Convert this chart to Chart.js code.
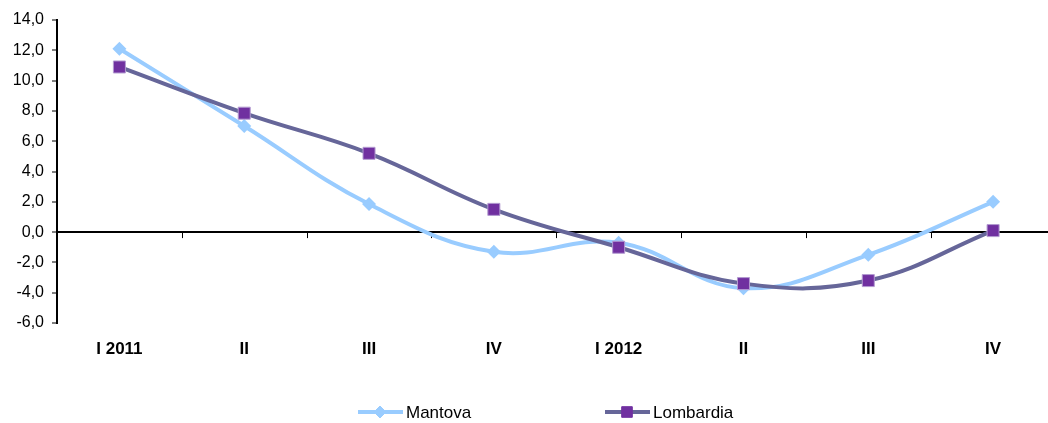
<!DOCTYPE html>
<html>
<head>
<meta charset="utf-8">
<script src="https://cdn.jsdelivr.net/npm/chart.js@4"></script>
<style>
  html, body { margin: 0; padding: 0; background: #fff; overflow: hidden; }
  #wrap { width: 1065px; height: 423px; }
</style>
</head>
<body>
<div id="wrap"><canvas id="trendChart"></canvas></div>
<script>
    var quarters = ['I 2011', 'II', 'III', 'IV', 'I 2012', 'II', 'III', 'IV'];
    var mantova = [12.1, 7.0, 1.85, -1.3, -0.7, -3.7, -1.5, 2.0];
    var lombardia = [10.9, 7.85, 5.2, 1.5, -1.0, -3.4, -3.2, 0.1];

    var mantovaColor = '#99CCFF';
    var lombardiaLine = '#666699';
    var lombardiaMark = '#7030A0';

    // small ticks on the zero line between categories + legend at the bottom
    var extras = {
        id: 'extras',
        beforeDatasetsDraw(chart) {
            var c = chart.ctx, area = chart.chartArea;
            var y0 = chart.scales.y.getPixelForValue(0);
            var w = (area.right - area.left) / quarters.length;
            c.save();
            c.strokeStyle = '#000';
            c.lineWidth = 1;
            for (var i = 1; i < quarters.length; i++) {
                var x = Math.round(area.left + i * w) + 0.5;
                c.beginPath();
                c.moveTo(x, y0);
                c.lineTo(x, y0 + 6);
                c.stroke();
            }
            c.restore();
        },
        afterDraw(chart) {
            var c = chart.ctx;
            var items = [
                { x: 358, label: 'Mantova', line: mantovaColor, fill: mantovaColor, style: 'rectRot', r: 6 },
                { x: 605, label: 'Lombardia', line: lombardiaLine, fill: lombardiaMark, style: 'rect', r: 7.5 }
            ];
            var y = 412;
            c.save();
            c.font = '17px "Liberation Sans", Arial, sans-serif';
            c.textBaseline = 'middle';
            items.forEach(function (it) {
                c.strokeStyle = it.line;
                c.lineWidth = 4;
                c.beginPath();
                c.moveTo(it.x, y);
                c.lineTo(it.x + 45, y);
                c.stroke();
                c.fillStyle = it.fill;
                c.strokeStyle = it.fill;
                c.lineWidth = 1;
                Chart.helpers.drawPoint(c, { pointStyle: it.style, radius: it.r, borderWidth: 1 }, it.x + 22, y);
                c.fillStyle = '#000';
                c.fillText(it.label, it.x + 48, y + 1);
            });
            c.restore();
        }
    };

    var ctx = document.getElementById('trendChart').getContext('2d');

    var trendChart = new Chart(ctx, {
        type: 'line',
        data: {
            labels: quarters,
            datasets: [{
                label: 'Mantova',
                data: mantova,
                order: 1,
                borderColor: mantovaColor,
                backgroundColor: mantovaColor,
                borderWidth: 4,
                tension: 0.4,
                pointStyle: 'rectRot',
                pointRadius: 7,
                pointBorderWidth: 0
            }, {
                label: 'Lombardia',
                data: lombardia,
                order: 0,
                borderColor: lombardiaLine,
                backgroundColor: lombardiaMark,
                pointBorderColor: '#b39bd1',
                pointBorderWidth: 1,
                borderWidth: 4,
                tension: 0.4,
                pointStyle: 'rect',
                pointRadius: 8.5
            }]
        },
        options: {
            responsive: true,
            maintainAspectRatio: false,
            animation: false,
            layout: { padding: { top: 20, right: 5, left: 0, bottom: 0 } },
            scales: {
                x: {
                    offset: true,
                    grid: { display: false, drawTicks: false },
                    border: { display: false },
                    afterFit: function (s) { s.height = 100; },
                    ticks: {
                        padding: 16,
                        color: '#000',
                        autoSkip: false,
                        maxRotation: 0,
                        font: { family: '"Liberation Sans", Arial, sans-serif', size: 17, weight: 'bold' }
                    }
                },
                y: {
                    min: -6,
                    max: 14,
                    afterFit: function (s) { s.width = 57; },
                    border: { display: true, color: '#000', width: 2 },
                    grid: {
                        color: c => c.tick && c.tick.value === 0 ? '#000' : 'rgba(0,0,0,0)',
                        lineWidth: 2,
                        tickColor: '#000',
                        tickWidth: 1,
                        tickLength: 5
                    },
                    ticks: {
                        stepSize: 2,
                        padding: 8,
                        color: '#000',
                        font: { family: '"Liberation Sans", Arial, sans-serif', size: 16 },
                        callback: v => v.toFixed(1).replace('.', ',')
                    }
                }
            },
            plugins: {
                legend: { display: false },
                tooltip: { enabled: false }
            }
        },
        plugins: [extras]
    });
</script>
</body>
</html>
